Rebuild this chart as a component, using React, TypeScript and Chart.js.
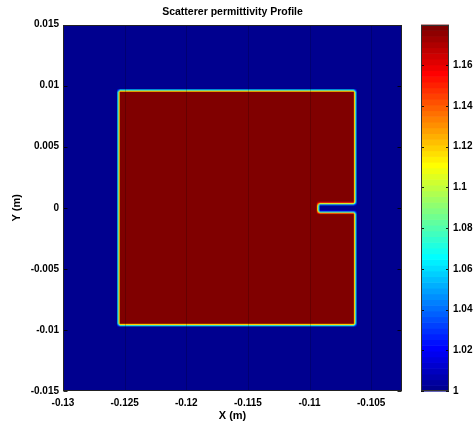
import React, { useEffect, useRef } from "react";
import { Chart, registerables } from "chart.js";

Chart.register(...registerables);

const FONT = "'Liberation Sans', Arial, Helvetica, sans-serif";

const chartTitle = "Scatterer permittivity Profile";
const xLabel = "X (m)";
const yLabel = "Y (m)";

const xRange = [-0.13, -0.1025];
const yRange = [-0.015, 0.015];
const xTicks = [-0.13, -0.125, -0.12, -0.115, -0.11, -0.105];
const xTickLabels = ["-0.13", "-0.125", "-0.12", "-0.115", "-0.11", "-0.105"];
const yTicks = [-0.015, -0.01, -0.005, 0, 0.005, 0.01, 0.015];
const yTickLabels = ["-0.015", "-0.01", "-0.005", "0", "0.005", "0.01", "0.015"];

const cbRange = [1, 1.18];
const cbTicks = [1, 1.02, 1.04, 1.06, 1.08, 1.1, 1.12, 1.14, 1.16];
const cbTickLabels = ["1", "1.02", "1.04", "1.06", "1.08", "1.1", "1.12", "1.14", "1.16"];

// scatterer geometry (m)
const squareX = [-0.1255, -0.1063];
const squareY = [-0.0096, 0.0096];
const notchX = [-0.1093, -0.1063];
const notchY = [-0.00037, 0.00033];
const permittivity = [1, 1.18]; // background, scatterer
const edgeWidth = 0.0003;
const cellSize = 0.0001;
const colorLevels = 64;

function jetColor(index: number, m: number): [number, number, number] {
  const n = Math.ceil(m / 4);
  const u: number[] = [];
  for (let k = 1; k <= n; k++) u.push(k / n);
  for (let k = 1; k < n; k++) u.push(1);
  for (let k = n; k >= 1; k--) u.push(k / n);
  const gStart = Math.ceil(n / 2) - (m % 4 === 1 ? 1 : 0);
  const rgb = [0, 0, 0];
  const i1 = index + 1;
  for (let k = 0; k < u.length; k++) {
    const g = gStart + k + 1;
    const r = g + n;
    const b = g - n;
    if (r === i1) rgb[0] = u[k];
    if (g === i1) rgb[1] = u[k];
    if (b === i1) rgb[2] = u[k];
  }
  return [Math.round(rgb[0] * 255), Math.round(rgb[1] * 255), Math.round(rgb[2] * 255)];
}

const palette = Array.from({ length: colorLevels }, (_, i) => jetColor(i, colorLevels));

function levelOf(v: number) {
  const t = (v - cbRange[0]) / (cbRange[1] - cbRange[0]);
  return Math.max(0, Math.min(colorLevels - 1, Math.floor(t * colorLevels)));
}

function ramp(t: number) {
  return Math.min(1, Math.max(0, 0.5 + t / edgeWidth));
}

let fieldCanvas: HTMLCanvasElement | null = null;
function getField() {
  if (fieldCanvas) return fieldCanvas;
  const nx = Math.round((xRange[1] - xRange[0]) / cellSize);
  const ny = Math.round((yRange[1] - yRange[0]) / cellSize);
  const c = document.createElement("canvas");
  c.width = nx;
  c.height = ny;
  const cx = c.getContext("2d")!;
  const img = cx.createImageData(nx, ny);
  for (let j = 0; j < ny; j++) {
    const yv = yRange[1] - (j + 0.5) * cellSize;
    for (let i = 0; i < nx; i++) {
      const xv = xRange[0] + (i + 0.5) * cellSize;
      const s = ramp(xv - squareX[0]) * ramp(squareX[1] - xv) * ramp(yv - squareY[0]) * ramp(squareY[1] - yv);
      const n = ramp(xv - notchX[0]) * ramp(yv - notchY[0]) * ramp(notchY[1] - yv);
      const f = s * (1 - n);
      const val = permittivity[0] + (permittivity[1] - permittivity[0]) * f;
      const col = palette[levelOf(val)];
      const p = (j * nx + i) * 4;
      img.data[p] = col[0];
      img.data[p + 1] = col[1];
      img.data[p + 2] = col[2];
      img.data[p + 3] = 255;
    }
  }
  cx.putImageData(img, 0, 0);
  fieldCanvas = c;
  return c;
}

const heatPlugin = {
  id: "heat",
  beforeDatasetsDraw(chart: any) {
    const { ctx, chartArea, scales } = chart;
    const x = scales.x, y = scales.y;
    const px0 = x.getPixelForValue(xRange[0]);
    const px1 = x.getPixelForValue(xRange[1]);
    const py0 = y.getPixelForValue(yRange[1]);
    const py1 = y.getPixelForValue(yRange[0]);
    ctx.save();
    ctx.beginPath();
    ctx.rect(chartArea.left, chartArea.top, chartArea.right - chartArea.left, chartArea.bottom - chartArea.top);
    ctx.clip();
    ctx.imageSmoothingEnabled = true;
    ctx.drawImage(getField(), px0, py0, px1 - px0, py1 - py0);
    ctx.restore();
  },
  afterDatasetsDraw(chart: any) {
    const { ctx, chartArea, scales } = chart;
    const x = scales.x, y = scales.y, cb = scales.cb;
    const L = Math.round(chartArea.left) + 0.5;
    const R = Math.round(chartArea.right) - 0.5;
    const T = Math.round(chartArea.top) + 0.5;
    const B = Math.round(chartArea.bottom) - 0.5;
    ctx.save();
    // faint vertical lines at x ticks
    ctx.strokeStyle = "rgba(0,0,0,0.2)";
    ctx.lineWidth = 1;
    for (const v of xTicks) {
      const px = Math.round(x.getPixelForValue(v)) + 0.5;
      if (px <= L + 1 || px >= R - 1) continue;
      ctx.beginPath();
      ctx.moveTo(px, T);
      ctx.lineTo(px, B);
      ctx.stroke();
    }
    // y ticks inside both sides
    ctx.strokeStyle = "rgba(0,0,0,0.85)";
    for (const v of yTicks) {
      const py = Math.round(y.getPixelForValue(v)) + 0.5;
      ctx.beginPath();
      ctx.moveTo(L, py);
      ctx.lineTo(L + 4, py);
      ctx.moveTo(R, py);
      ctx.lineTo(R - 4, py);
      ctx.stroke();
    }
    // frame
    ctx.strokeStyle = "#222";
    ctx.strokeRect(L, T, R - L, B - T);

    // colorbar
    const cbL = cb.left + 19;
    const cbR = cb.left + 47;
    for (let i = 0; i < colorLevels; i++) {
      const v0 = cbRange[0] + (i / colorLevels) * (cbRange[1] - cbRange[0]);
      const v1 = cbRange[0] + ((i + 1) / colorLevels) * (cbRange[1] - cbRange[0]);
      const y0 = cb.getPixelForValue(v0);
      const y1 = cb.getPixelForValue(v1);
      const c = palette[i];
      ctx.fillStyle = `rgb(${c[0]},${c[1]},${c[2]})`;
      ctx.fillRect(cbL, y1, cbR - cbL, y0 - y1 + 0.6);
    }
    ctx.strokeStyle = "rgba(0,0,0,0.85)";
    for (const v of cbTicks) {
      const py = Math.round(cb.getPixelForValue(v)) + 0.5;
      ctx.beginPath();
      ctx.moveTo(cbL, py);
      ctx.lineTo(cbL + 3, py);
      ctx.moveTo(cbR, py);
      ctx.lineTo(cbR - 3, py);
      ctx.stroke();
    }
    ctx.strokeStyle = "#333";
    const ct = Math.round(cb.getPixelForValue(cbRange[1])) + 0.5;
    const cbot = Math.round(cb.getPixelForValue(cbRange[0])) - 0.5;
    ctx.strokeRect(Math.round(cbL) + 0.5, ct, Math.round(cbR - cbL) - 1, cbot - ct);
    ctx.restore();
  },
};

const noGrid = { display: false, drawTicks: false, tickLength: 0 };

export default function App() {
  const ref = useRef<HTMLCanvasElement>(null);
  useEffect(() => {
    if (!ref.current) return;
    const tickFont = { family: FONT, size: 10, weight: "bold" as const };
    const chart = new Chart(ref.current, {
      type: "scatter",
      data: { datasets: [{ data: [], pointRadius: 0 }] },
      options: {
        responsive: false,
        animation: false,
        devicePixelRatio: 1,
        layout: { padding: 0 },
        plugins: {
          legend: { display: false },
          tooltip: { enabled: false },
          title: {
            display: true,
            text: chartTitle,
            color: "#000",
            fullSize: false,
            font: { family: FONT, size: 10.5, weight: "bold" },
            padding: { top: 6, bottom: 6 },
          },
        },
        scales: {
          x: {
            type: "linear",
            position: "bottom",
            min: xRange[0],
            max: xRange[1],
            afterBuildTicks: (s: any) => {
              s.ticks = xTicks.map((v) => ({ value: v }));
            },
            afterFit: (s: any) => {
              s.height = 37;
            },
            grid: noGrid,
            border: { display: false },
            ticks: {
              autoSkip: false,
              maxRotation: 0,
              padding: 6,
              color: "#000",
              font: tickFont,
              callback: (_v: any, i: number) => xTickLabels[i],
            },
            title: {
              display: true,
              text: xLabel,
              color: "#000",
              font: { family: FONT, size: 11, weight: "bold" },
              padding: { top: 0, bottom: 5 },
            },
          },
          y: {
            type: "linear",
            position: "left",
            min: yRange[0],
            max: yRange[1],
            afterBuildTicks: (s: any) => {
              s.ticks = yTicks.map((v) => ({ value: v }));
            },
            afterFit: (s: any) => {
              s.width = 63;
            },
            grid: noGrid,
            border: { display: false },
            ticks: {
              autoSkip: false,
              padding: 4,
              color: "#000",
              font: tickFont,
              callback: (_v: any, i: number) => yTickLabels[i],
            },
            title: {
              display: true,
              text: yLabel,
              color: "#000",
              font: { family: FONT, size: 11, weight: "bold" },
              padding: { top: 10, bottom: 0 },
            },
          },
          cb: {
            type: "linear",
            position: "right",
            min: cbRange[0],
            max: cbRange[1],
            afterBuildTicks: (s: any) => {
              s.ticks = cbTicks.map((v) => ({ value: v }));
            },
            afterFit: (s: any) => {
              s.width = 72;
              s.paddingTop = 0;
              s.paddingBottom = 0;
            },
            grid: noGrid,
            border: { display: false },
            ticks: {
              autoSkip: false,
              padding: 51,
              color: "#000",
              font: tickFont,
              callback: (_v: any, i: number) => cbTickLabels[i],
            },
          },
        },
      },
      plugins: [heatPlugin],
    } as any);
    return () => chart.destroy();
  }, []);
  return (
    <div style={{ position: "absolute", left: 0, top: 0, width: 474, height: 428, background: "#fff" }}>
      <canvas ref={ref} width={474} height={428} style={{ display: "block", width: 474, height: 428 }} />
    </div>
  );
}
